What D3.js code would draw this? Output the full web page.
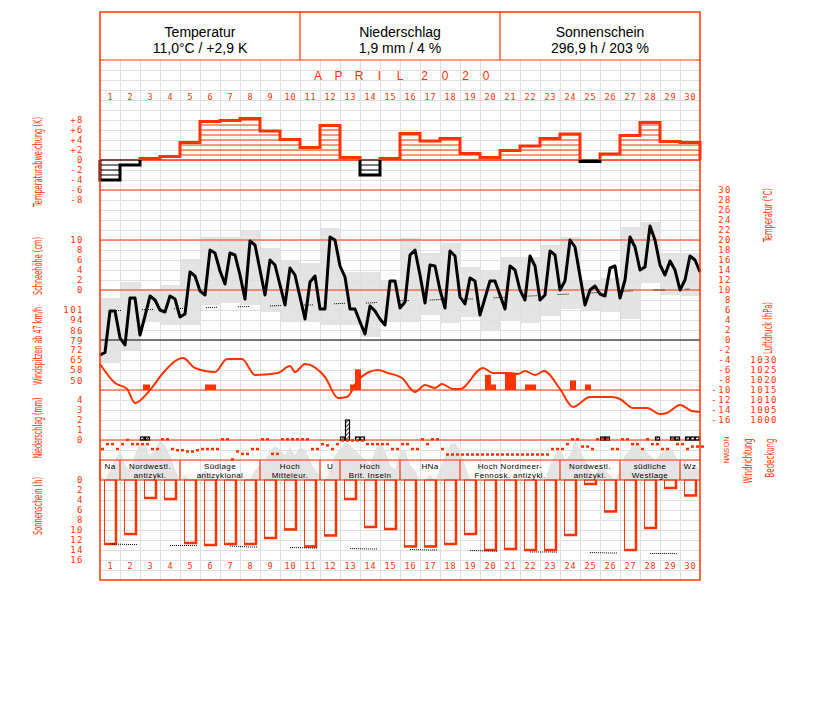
<!DOCTYPE html>
<html>
<head>
<meta charset="utf-8">
<title>Klimadiagramm April 2020</title>
<style>
  body { margin: 0; background: #fff; }
  svg { display: block; }
  text { font-family: "Liberation Sans", Arial, sans-serif; }
  .tick { fill: #ff3300; font-family: "DejaVu Sans Mono", monospace; font-size: 9px; letter-spacing: 1.5px; }
  .axlab { fill: #ff3300; font-family: "Liberation Sans Narrow", "DejaVu Sans Condensed", sans-serif; font-size: 13px; }
</style>
</head>
<body>
<svg id="chart" width="827" height="702"></svg>
<script src="https://cdn.jsdelivr.net/npm/d3@7"></script>
<script>
// ---- data (April 2020) ----
var days = d3.range(1, 31);
var tempAnomaly = [-4, -1, 0.3, 0.7, 3.5, 7.7, 7.9, 8.3, 5.8, 4.1, 2.5, 6.9, 0.5, -3, 0.3,
  5.3, 3.8, 4.3, 1.3, 0.5, 1.9, 2.8, 4.3, 5.2, -0.3, 1.2, 4.9, 7.5, 3.7, 3.5];
// air temperature every 6 hours (°C)
var temp6h = [-3, -2.5, 5.8, 5.8, 0.4, -1, 8.4, 8.4, 1, 4.8, 8.8, 8, 6, 5.6, 8.8, 8.2,
  4.6, 5.2, 13.6, 12.8, 9.8, 9, 18, 17.4, 13.8, 11.2, 17.4, 17, 13, 8.2, 19.8, 19,
  14, 9, 16, 15, 11, 7, 14.4, 13, 8.6, 4.2, 11.6, 12.8, 6.2, 6.2, 20.6, 20,
  14.8, 12.6, 6.2, 6.2, 3.6, 1.2, 6.8, 5.8, 4.2, 3, 11.8, 11.8, 6.4, 7.6, 17, 18,
  13, 7.4, 15, 14.8, 10, 6.4, 17.8, 16.8, 8.6, 7.2, 12.4, 11.8, 5, 8.4, 11.8, 11.8,
  9, 6.2, 14.8, 14, 10, 8, 16.8, 14.8, 8, 9, 17.8, 17, 10, 11.8, 20, 18.6,
  12.8, 7, 10, 10.8, 9.2, 8.8, 14.4, 14.8, 8.4, 12, 20.6, 18.6, 14, 14.6, 22.8, 20,
  15, 13, 15.8, 14, 10, 12, 16.8, 16, 13.6];
var tempRangeHigh = [8.4, 11.6, 10.2, 11, 16.2, 20.6, 20.6, 21.8, 18.4, 16, 15.4, 22.4, 13.6, 13.6, 12,
  20.4, 17.4, 19.4, 14.6, 14, 16.6, 16.6, 19, 20.6, 12, 12.4, 22.6, 23.6, 17.4, 17.4];
var tempRangeLow = [-4.6, -2, 3.6, 3, 3, 7, 7.4, 7, 5.6, 3.6, 3.6, 3, 3, 0.6, 3.6,
  3.6, 5, 3.4, 4.6, 2, 3.8, 3.4, 4.8, 6.2, 5.8, 5.6, 4.2, 11.4, 9, 8.8];
var tempNormal = [5.8, 6, 6.1, 6.2, 6.4, 6.5, 6.6, 6.7, 6.8, 7, 7, 7.2, 7.4, 7.4, 7.8,
  7.9, 8, 8.2, 8.2, 8.4, 8.6, 8.8, 9, 9.2, 9.4, 9.6, 9.8, 10, 10, 10.2];
// wind gusts: start/end in days since 1 April, km/h
var gustStart = [2.15, 5.25, 12.5, 12.75, 19.25, 19.55, 20.25, 21.25, 23.5, 24.25];
var gustEnd   = [2.5, 5.8, 12.75, 13.05, 19.55, 19.8, 20.8, 21.8, 23.8, 24.55];
var gustKmh   = [47, 47, 47, 58, 54, 47, 55, 47, 50, 47];
// air pressure (hPa)
var presTime = [0, 0.75, 1.35, 1.75, 2.5, 3.15, 4.15, 4.75, 5.75, 6.35, 7.1, 7.75, 8.9, 9.5, 9.75,
  10.25, 11.25, 11.9, 12.35, 12.9, 13.9, 14.4, 15.1, 15.75, 16.25, 16.75, 17.1, 17.65, 18,
  19.15, 19.65, 20.5, 20.9, 21.25, 21.75, 22.2, 23, 23.65, 24.5, 25.6, 26, 26.65, 27.35,
  28, 28.35, 29, 29.6, 30];
var presHpa = [1028, 1018.5, 1015.5, 1008.5, 1015, 1023.5, 1031, 1026, 1024, 1030.5, 1030.5, 1022.5, 1023.5, 1027, 1024,
  1028, 1021.5, 1011, 1011.5, 1020, 1025, 1023.5, 1021, 1014, 1017.5, 1016, 1018, 1015.5, 1015.5,
  1026, 1023.5, 1023.5, 1023, 1024.5, 1022.5, 1024.5, 1015.5, 1006.5, 1011.5, 1011.5, 1010.5, 1006, 1006,
  1003, 1003.5, 1007.5, 1004.5, 1004];
// precipitation per 6 h (mm)
var precTime = [2, 2.25, 12, 12.25, 12.75, 13, 25, 25.25, 27.75, 28.5, 28.75, 29.25, 29.5, 29.75];
var precMm   = [0.3, 0.3, 0.3, 2.0, 0.3, 0.3, 0.3, 0.3, 0.3, 0.3, 0.3, 0.3, 0.3, 0.3];
// wind direction every 6 h (degrees)
var windDir6h = [160, 80, 80, 160, 80, 10, 80, 80, 80, 80, 160, 160, 0, 0, 160, 180,
  180, 200, 200, 180, 160, 160, 160, 160, 0, 0, 330, 200, 240, 240, 160, 160,
  0, 0, 240, 240, 0, 0, 0, 0, 0, 0, 160, 160, 80, 100, 160, 80,
  20, 20, 20, 20, 20, 80, 80, 80, 80, 80, 160, 160, 80, 80, 160, 160,
  0, 80, 0, 0, 160, 250, 250, 250, 250, 250, 250, 250, 250, 250, 250, 250,
  250, 250, 250, 250, 250, 250, 250, 250, 250, 250, 160, 160, 160, 80, 0, 0,
  120, 120, 160, 0, 0, 0, 160, 160, 0, 0, 80, 80, 160, 0, 80, 80,
  160, 160, 0, 80, 80, 160, 120, 120, 120];
// cloud cover every 6 h (octas)
var cloud6h = [1, 0, 2, 4, 6, 3, 2, 5, 7.6, 7, 5, 6, 8, 7, 5, 2,
  0, 1, 0, 0, 1, 2, 1, 0, 0, 0, 1, 0, 0, 0, 0, 2,
  3, 4, 6, 6.8, 6, 5, 6.6, 5, 6.6, 6, 4, 2, 1, 0, 2, 5,
  6, 7.6, 7, 6, 5, 4, 3, 6, 7.4, 6, 3, 2, 6, 6, 3, 2,
  0, 0, 1, 0, 2, 5, 7, 7.4, 6, 3, 0, 0, 0, 0, 0, 0,
  0, 0, 0, 0, 0, 0, 0, 0, 0, 0, 3, 5, 6.6, 4, 5, 8,
  6, 4, 2, 1, 3, 2, 1, 0, 2, 5, 6, 8, 7, 6, 5, 4,
  5, 6, 6.6, 5, 3, 4, 2, 3, 2];
// Grosswetterlagen
var gwlFirst = [1, 2, 5, 9, 12, 13, 16, 19, 24, 27, 30];
var gwlLast  = [1, 4, 8, 11, 12, 15, 18, 23, 26, 29, 30];
var gwlLine1 = ['Na', 'Nordwestl.', 'Südlage', 'Hoch', 'U', 'Hoch', 'HNa', 'Hoch Nordmeer-', 'Nordwestl.', 'südliche', 'Wz'];
var gwlLine2 = ['', 'antizykl.', 'antizyklonal', 'Mitteleur.', '', 'Brit. Inseln', '', 'Fennosk. antizykl.', 'antizykl.', 'Westlage', ''];
// sunshine duration (h)
var sunshine = [12.7, 10.7, 3.5, 3.7, 12.5, 12.9, 12.7, 12.7, 11.5, 9.8, 13.2, 11, 3.7, 9.3, 9.7,
  13.2, 13.2, 12.7, 10.7, 13.9, 13.7, 13.9, 13.9, 10.9, 0.7, 6.2, 13.9, 9.5, 1.5, 3.0];
var sunNormal = [12.8, 12.9, 13, 13.1, 13.1, 13.2, 13.2, 13.4, 13.4, 13.5, 13.6, 13.6, 13.7, 13.8, 13.8,
  13.9, 14, 14, 14.1, 14.2, 14.3, 14.4, 14.4, 14.5, 14.5, 14.6, 14.6, 14.7, 14.7, 14.8];

var anomTicks = ['+8', '+6', '+4', '+2', '0', '-2', '-4', '-6', '-8'];
var snowTicks = [10, 8, 6, 4, 2, 0];
var windTicks = [101, 94, 86, 79, 72, 65, 58, 50];
var precTicks = [4, 3, 2, 1, 0];
var sunTicks = [0, 2, 4, 6, 8, 10, 12, 14, 16];
var tempTicks = d3.range(30, -17, -2);
var presTicks = [1030, 1025, 1020, 1015, 1010, 1005, 1000];
var dirTicks = ['N', 'O', 'S', 'W', 'N'];
var monthTitle = 'APRIL 2020';

// ---- scales ----
var red = '#ff3300';
var svg = d3.select('#chart');
var x = d3.scaleLinear().domain([0, 30]).range([100, 700]);
var yAnom = d3.scaleLinear().domain([-8, 8]).range([200, 120]);
var yTemp = d3.scaleLinear().domain([-16, 30]).range([420, 190]);
var ySnow = d3.scaleLinear().domain([0, 10]).range([290, 240]);
var yWind = d3.scaleLinear().domain([43, 101]).range([390, 310]);
var yPrec = d3.scaleLinear().domain([0, 4]).range([440, 400]);
var yPres = d3.scaleLinear().domain([1000, 1030]).range([420, 360]);
var yDir = d3.scaleLinear().domain([0, 360]).range([439, 461]);
var yCloud = d3.scaleLinear().domain([0, 8]).range([480, 440]);
var ySun = d3.scaleLinear().domain([0, 16]).range([480, 560]);

function dotted(on, off) {
  var a = [];
  for (var i = 0; i < on / 2; i++) a.push(1, 1);
  a[a.length - 1] += off;
  return a.join(',');
}

svg.append('rect').attr('width', 827).attr('height', 702).attr('fill', '#fff');

// temperature range bands
svg.append('g').selectAll('rect').data(days).join('rect')
  .attr('x', function (d) { return x(d - 1); })
  .attr('width', x(1) - x(0))
  .attr('y', function (d, i) { return yTemp(tempRangeHigh[i]); })
  .attr('height', function (d, i) { return yTemp(tempRangeLow[i]) - yTemp(tempRangeHigh[i]); })
  .attr('fill', '#e4e4e4');

// cloud cover
svg.append('path')
  .datum(cloud6h)
  .attr('fill', '#e4e4e4')
  .attr('d', d3.area()
    .x(function (d, i) { return x(i / 4); })
    .y0(yCloud(0))
    .y1(function (d) { return yCloud(d); }));

// grid
var grid = svg.append('g').attr('stroke', '#e0e0e0').attr('stroke-width', 1);
grid.selectAll('.h').data(d3.range(70, 580, 10).filter(function (v) { return v !== 470; })).join('line')
  .attr('x1', 100).attr('x2', 700)
  .attr('y1', function (d) { return d + 0.5; }).attr('y2', function (d) { return d + 0.5; });
grid.selectAll('.v').data(d3.range(1, 30)).join('line')
  .attr('x1', function (d) { return x(d) + 0.5; }).attr('x2', function (d) { return x(d) + 0.5; })
  .attr('y1', 60).attr('y2', 580);

// section lines
var seps = svg.append('g').attr('stroke', red).attr('stroke-width', 1.2);
[60, 190, 240, 290, 390, 440, 460, 480].forEach(function (v) {
  seps.append('line').attr('x1', 100).attr('x2', 700).attr('y1', v).attr('y2', v);
});
seps.append('line').attr('x1', 100).attr('x2', 700).attr('y1', yAnom(0)).attr('y2', yAnom(0)).attr('stroke-width', 1);
svg.append('line').attr('x1', 100).attr('x2', 700).attr('y1', yTemp(0)).attr('y2', yTemp(0))
  .attr('stroke', '#000').attr('stroke-width', 1.2);

// temperature anomaly: hatch lines per kelvin
var anomG = svg.append('g');
tempAnomaly.forEach(function (v, i) {
  var col = v < 0 ? '#000' : red;
  var n = Math.floor(Math.abs(v));
  for (var k = 0; k <= n; k++) {
    var yy = yAnom(v < 0 ? -k : k);
    anomG.append('line').attr('x1', x(i)).attr('x2', x(i + 1)).attr('y1', yy).attr('y2', yy)
      .attr('stroke', col).attr('stroke-width', 1);
  }
});
// thick outline for each run of same sign
var runs = [];
tempAnomaly.forEach(function (v, i) {
  var s = v < 0 ? -1 : 1;
  if (runs.length && runs[runs.length - 1].s === s) runs[runs.length - 1].idx.push(i);
  else runs.push({ s: s, idx: [i] });
});
runs.forEach(function (r) {
  var p = d3.path();
  var first = r.idx[0];
  p.moveTo(x(first), yAnom(0));
  r.idx.forEach(function (i) {
    p.lineTo(x(i), yAnom(tempAnomaly[i]));
    p.lineTo(x(i + 1), yAnom(tempAnomaly[i]));
  });
  p.lineTo(x(r.idx[r.idx.length - 1] + 1), yAnom(0));
  anomG.append('path').attr('d', p.toString()).attr('fill', 'none')
    .attr('stroke', r.s < 0 ? '#000' : red).attr('stroke-width', 3).attr('stroke-linejoin', 'miter');
});

// temperature normal (dotted)
svg.append('path').datum(tempNormal)
  .attr('fill', 'none').attr('stroke', '#000').attr('stroke-width', 1)
  .attr('stroke-dasharray', dotted(12, 20))
  .attr('d', d3.line().x(function (d, i) { return x(i + 0.5); }).y(function (d) { return yTemp(d); }));

// temperature line
svg.append('path').datum(temp6h)
  .attr('fill', 'none').attr('stroke', '#000').attr('stroke-width', 3).attr('stroke-linejoin', 'round')
  .attr('d', d3.line().x(function (d, i) { return x(i / 4); }).y(function (d) { return yTemp(d); }));

// wind gusts
svg.append('g').selectAll('rect').data(gustKmh).join('rect')
  .attr('x', function (d, i) { return x(gustStart[i]); })
  .attr('width', function (d, i) { return x(gustEnd[i]) - x(gustStart[i]); })
  .attr('y', function (d) { return yWind(d); })
  .attr('height', function (d) { return yWind(43) - yWind(d); })
  .attr('fill', red);

// pressure
svg.append('path').datum(presHpa)
  .attr('fill', 'none').attr('stroke', red).attr('stroke-width', 2)
  .attr('d', d3.line().curve(d3.curveMonotoneX)
    .x(function (d, i) { return x(presTime[i]); }).y(function (d) { return yPres(d); }));

// precipitation
var defs = svg.append('defs');
var pat = defs.append('pattern').attr('id', 'hatch').attr('width', 3).attr('height', 3)
  .attr('patternUnits', 'userSpaceOnUse').attr('patternTransform', 'rotate(45)');
pat.append('rect').attr('width', 3).attr('height', 3).attr('fill', '#fff');
pat.append('line').attr('x1', 0).attr('x2', 0).attr('y1', 0).attr('y2', 3).attr('stroke', '#000').attr('stroke-width', 1.5);
svg.append('g').selectAll('rect').data(precMm).join('rect')
  .attr('x', function (d, i) { return x(precTime[i]) + 0.5; })
  .attr('width', x(0.25) - x(0) - 1)
  .attr('y', function (d) { return yPrec(d); })
  .attr('height', function (d) { return yPrec(0) - yPrec(d); })
  .attr('fill', 'url(#hatch)').attr('stroke', '#000').attr('stroke-width', 1.2);

// wind direction dots
svg.append('g').selectAll('rect').data(windDir6h).join('rect')
  .attr('x', function (d, i) { return x(i / 4) + 1; })
  .attr('y', function (d) { return yDir(d) - 1; })
  .attr('width', 3).attr('height', 2.5).attr('fill', red);

// Grosswetterlagen
var gwl = svg.append('g');
gwlFirst.forEach(function (f, i) {
  var x0 = x(f - 1), x1 = x(gwlLast[i]);
  gwl.append('line').attr('x1', x0).attr('x2', x0).attr('y1', 460).attr('y2', 480)
    .attr('stroke', red).attr('stroke-width', 1.2);
  var cx = (x0 + x1) / 2;
  gwl.append('text').attr('x', cx).attr('y', 469).attr('text-anchor', 'middle')
    .attr('font-size', 8).attr('letter-spacing', 0.4).text(gwlLine1[i]);
  if (gwlLine2[i]) gwl.append('text').attr('x', cx).attr('y', 477.5).attr('text-anchor', 'middle')
    .attr('font-size', 8).attr('letter-spacing', 0.4).text(gwlLine2[i]);
});

// sunshine bars
var sunG = svg.append('g');
sunshine.forEach(function (v, i) {
  var x0 = x(i) + 4, x1 = x(i) + 17, yb = ySun(v);
  sunG.append('rect').attr('x', x0 + 0.5).attr('y', ySun(0)).attr('width', x1 - x0 - 1).attr('height', yb - ySun(0))
    .attr('fill', 'none').attr('stroke', red).attr('stroke-width', 1);
  sunG.append('path').attr('d', 'M' + (x1 - 1) + ',' + ySun(0) + 'V' + (yb + 0.5) + 'H' + x0)
    .attr('fill', 'none').attr('stroke', red).attr('stroke-width', 2.5);
});
svg.append('path').datum(sunNormal)
  .attr('fill', 'none').attr('stroke', '#000').attr('stroke-width', 1)
  .attr('stroke-dasharray', dotted(28, 32))
  .attr('d', d3.line().x(function (d, i) { return x(i + 0.5); }).y(function (d) { return ySun(d); }));

// frame and header
svg.append('rect').attr('x', 100).attr('y', 12).attr('width', 600).attr('height', 568)
  .attr('fill', 'none').attr('stroke', red).attr('stroke-width', 1.5);
[300, 500].forEach(function (v) {
  svg.append('line').attr('x1', v).attr('x2', v).attr('y1', 12).attr('y2', 60).attr('stroke', red).attr('stroke-width', 1.2);
});
var head = [['Temperatur', '11,0°C / +2,9 K'], ['Niederschlag', '1,9 mm / 4 %'], ['Sonnenschein', '296,9 h / 203 %']];
head.forEach(function (h, i) {
  svg.append('text').attr('x', 200 + i * 200).attr('y', 37).attr('text-anchor', 'middle').attr('font-size', 14).text(h[0]);
  svg.append('text').attr('x', 200 + i * 200).attr('y', 53).attr('text-anchor', 'middle').attr('font-size', 14).text(h[1]);
});
// month title: glyphs spread evenly, the blank only slightly wider
var titleX = [], px = 318;
monthTitle.split('').forEach(function (c) { titleX.push(px); px += c === ' ' ? 4 : 20.5; });
svg.append('text').attr('x', titleX.join(' ')).attr('y', 80).attr('text-anchor', 'middle')
  .attr('fill', red).attr('font-size', 12).attr('font-family', 'DejaVu Sans Mono, monospace')
  .text(monthTitle);

// day numbers top and bottom
[100, 569].forEach(function (yy) {
  svg.append('g').selectAll('text').data(days).join('text')
    .attr('class', 'tick').style('letter-spacing', '1px').style('font-size', '8.5px')
    .attr('x', function (d) { return x(d - 0.5) + 0.5; }).attr('y', yy).attr('text-anchor', 'middle')
    .text(function (d) { return d; });
});

// left ticks
function leftTicks(list, yfn) {
  svg.append('g').selectAll('text').data(list).join('text')
    .attr('class', 'tick').attr('x', 84).attr('y', function (d, i) { return yfn(d, i) + 3.3; })
    .attr('text-anchor', 'end').text(function (d) { return d; });
}
leftTicks(anomTicks, function (d) { return yAnom(+d); });
leftTicks(snowTicks, function (d) { return ySnow(d); });
leftTicks(windTicks, function (d) { return yWind(d); });
leftTicks(precTicks, function (d) { return yPrec(d); });
leftTicks(sunTicks, function (d) { return ySun(d); });

// right ticks
svg.append('g').selectAll('text').data(tempTicks).join('text')
  .attr('class', 'tick').attr('x', 732).attr('y', function (d) { return yTemp(d) + 3.3; })
  .attr('text-anchor', 'end').text(function (d) { return d; });
svg.append('g').selectAll('text').data(presTicks).join('text')
  .attr('class', 'tick').attr('x', 778).attr('y', function (d) { return yPres(d) + 3.3; })
  .attr('text-anchor', 'end').text(function (d) { return d; });
svg.append('g').selectAll('text').data(dirTicks).join('text')
  .attr('fill', red).attr('font-size', 7).attr('font-family', 'DejaVu Sans Mono, monospace')
  .attr('text-anchor', 'middle')
  .attr('transform', function (d, i) { return 'translate(726,' + yDir(i * 90) + ') rotate(90)'; })
  .attr('dy', '0.35em').text(function (d) { return d; });

// axis titles
function vlabel(txt, cx, cy, len) {
  svg.append('text').attr('class', 'axlab').attr('text-anchor', 'middle')
    .attr('transform', 'translate(' + cx + ',' + cy + ') rotate(-90)')
    .attr('textLength', len).attr('lengthAdjust', 'spacingAndGlyphs').text(txt);
}
vlabel('Temperaturabweichung (K)', 42, 162, 90);
vlabel('Schneehöhe (cm)', 42, 266, 58);
vlabel('Windspitzen ab 47 km/h', 42, 346, 78);
vlabel('Niederschlag (mm)', 42, 428, 61);
vlabel('Sonnenschein (h)', 42, 506, 58);
vlabel('Temperatur (°C)', 772, 215, 54);
vlabel('Luftdruck (hPa)', 772, 328, 52);
vlabel('Windrichtung', 752, 461, 45);
vlabel('Bedeckung', 774, 458, 39);
</script>
</body>
</html>
